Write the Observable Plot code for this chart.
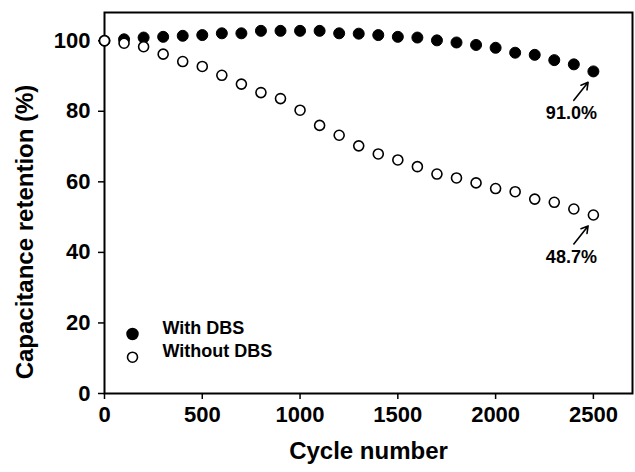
<!DOCTYPE html>
<html>
<head>
<meta charset="utf-8">
<script src="https://cdn.jsdelivr.net/npm/d3@7"></script>
<script src="https://cdn.jsdelivr.net/npm/@observablehq/plot@0.6"></script>
<style>
  html, body { margin: 0; padding: 0; background: #fff; }
  #chart svg { display: block; font-family: "Liberation Sans", Arial, sans-serif; font-weight: bold; }
</style>
</head>
<body>
<div id="chart"></div>
<script>
const cycles = [0,100,200,300,400,500,600,700,800,900,1000,1100,1200,1300,1400,1500,1600,1700,1800,1900,2000,2100,2200,2300,2400,2500];
const withDBS = [100,100.4,100.9,101.1,101.4,101.6,102.1,102.1,102.8,102.8,102.8,102.8,102.1,102.0,101.6,101.1,100.9,100.1,99.5,98.8,98.0,96.6,96.0,94.5,93.3,91.3];
const withoutDBS = [100,99.3,98.3,96.2,94.1,92.7,90.2,87.7,85.3,83.6,80.3,76.0,73.2,70.2,67.9,66.2,64.3,62.2,61.1,59.7,58.1,57.2,55.1,54.2,52.3,50.6];
const seriesNames = ["With DBS", "Without DBS"];
const endLabels = ["91.0%", "48.7%"];
const xTicks = [0,500,1000,1500,2000,2500];
const yTicks = [0,20,40,60,80,100];
const xTitle = "Cycle number";
const yTitle = "Capacitance retention (%)";

const dWith = cycles.map((c, i) => ({cycle: c, value: withDBS[i]}));
const dWithout = cycles.map((c, i) => ({cycle: c, value: withoutDBS[i]}));
const lastPoints = [dWith[dWith.length - 1], dWithout[dWithout.length - 1]];

const chart = Plot.plot({
  width: 635,
  height: 472,
  marginLeft: 104,
  marginRight: 3,
  marginTop: 12,
  marginBottom: 79,
  style: {fontFamily: "'Liberation Sans', Arial, sans-serif", fontWeight: "bold", background: "#fff", color: "#000"},
  x: {domain: [0, 2700]},
  y: {domain: [0, 108]},
  marks: [
    Plot.frame({stroke: "#000", strokeWidth: 2}),
    Plot.axisX({ticks: xTicks, tickFormat: d => String(d), tickSize: 6, tickPadding: 7, fontSize: 22, fontWeight: "bold", label: null, strokeWidth: 1.5}),
    Plot.axisY({ticks: yTicks, tickFormat: d => String(d), tickSize: 6, tickPadding: 8, fontSize: 22, fontWeight: "bold", label: null, strokeWidth: 1.5}),
    Plot.text([xTitle], {frameAnchor: "bottom", dy: 65, fontSize: 24, fontWeight: "bold", fill: "#000"}),
    Plot.text([yTitle], {frameAnchor: "left", textAnchor: "middle", dx: -79, dy: 29, rotate: -90, fontSize: 24, fontWeight: "bold", fill: "#000"}),
    Plot.dot(dWith, {x: "cycle", y: "value", r: 5.5, fill: "#000", stroke: "#000", strokeWidth: 1}),
    Plot.dot(dWithout, {x: "cycle", y: "value", r: 5, fill: "#fff", stroke: "#000", strokeWidth: 1.6}),
    Plot.arrow(lastPoints, {
      x1: d => d.cycle - 100, y1: d => d.value - 8.2,
      x2: d => d.cycle - 27, y2: d => d.value - 3.1,
      stroke: "#000", strokeWidth: 1.6, headLength: 8
    }),
    Plot.text(lastPoints, {x: "cycle", y: "value", text: (d, i) => endLabels[i], dx: -22, dy: 42, fontSize: 18, fontWeight: "bold", fill: "#000"}),
    Plot.dot([seriesNames[0]], {frameAnchor: "bottom-left", dx: 28, dy: -59.5, r: 5.5, fill: "#000", stroke: "#000"}),
    Plot.dot([seriesNames[1]], {frameAnchor: "bottom-left", dx: 28, dy: -36.3, r: 5, fill: "#fff", stroke: "#000", strokeWidth: 1.6}),
    Plot.text([seriesNames[0]], {frameAnchor: "bottom-left", dx: 58, dy: -59.5, textAnchor: "start", fontSize: 18, fontWeight: "bold", fill: "#000"}),
    Plot.text([seriesNames[1]], {frameAnchor: "bottom-left", dx: 58, dy: -36.3, textAnchor: "start", fontSize: 18, fontWeight: "bold", fill: "#000"})
  ]
});
document.getElementById("chart").appendChild(chart);
</script>
</body>
</html>
